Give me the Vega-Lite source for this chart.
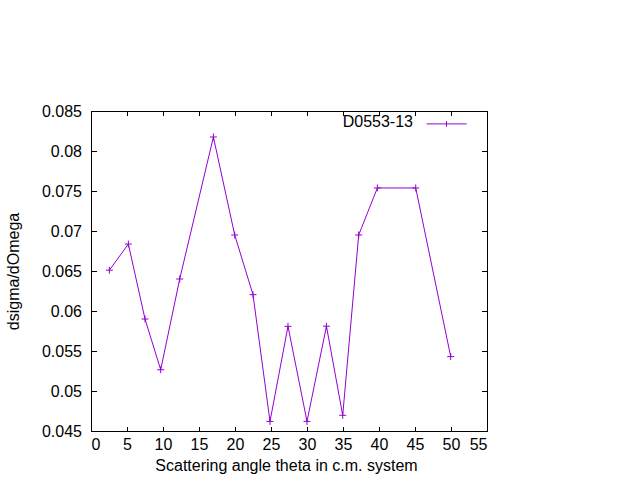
{
  "$schema": "https://vega.github.io/schema/vega-lite/v6.json",
  "width": 396,
  "height": 320,
  "autosize": "none",
  "padding": {"left": 91, "top": 111, "right": 153, "bottom": 49},
  "background": "white",
  "config": {
    "view": {"stroke": "black", "strokeWidth": 1},
    "font": "Liberation Sans",
    "axis": {
      "domain": false,
      "grid": false,
      "tickColor": "black",
      "tickWidth": 1,
      "labelFont": "Liberation Sans",
      "labelFontSize": 16,
      "labelColor": "black",
      "titleFont": "Liberation Sans",
      "titleFontSize": 16,
      "titleFontWeight": "normal",
      "titleColor": "black"
    }
  },
  "data": {
    "values": [
      {"theta": 2.55, "dsdo": 0.0651},
      {"theta": 5.19, "dsdo": 0.06837},
      {"theta": 7.5, "dsdo": 0.0590},
      {"theta": 9.68, "dsdo": 0.05266},
      {"theta": 12.32, "dsdo": 0.0640},
      {"theta": 17.0, "dsdo": 0.08175},
      {"theta": 19.96, "dsdo": 0.0695},
      {"theta": 22.5, "dsdo": 0.06204},
      {"theta": 24.86, "dsdo": 0.0462},
      {"theta": 27.36, "dsdo": 0.05808},
      {"theta": 30.0, "dsdo": 0.0462},
      {"theta": 32.7, "dsdo": 0.0581},
      {"theta": 34.96, "dsdo": 0.04696},
      {"theta": 37.18, "dsdo": 0.0695},
      {"theta": 39.77, "dsdo": 0.07538},
      {"theta": 45.1, "dsdo": 0.07538},
      {"theta": 49.96, "dsdo": 0.0543}
    ]
  },
  "layer": [
    {
      "mark": {"type": "line", "strokeWidth": 1, "clip": true},
      "encoding": {
        "x": {
          "field": "theta", "type": "quantitative",
          "scale": {"domain": [0, 55], "nice": false, "zero": false},
          "axis": {"orient": "bottom", "values": [0,5,10,15,20,25,30,35,40,45,50,55], "tickSize": -4.5, "labelPadding": 10, "titlePadding": 5, "titleX": 195, "title": "Scattering angle theta in c.m. system"}
        },
        "y": {
          "field": "dsdo", "type": "quantitative",
          "scale": {"domain": [0.045, 0.085], "nice": false, "zero": false},
          "axis": {"orient": "left", "values": [0.045,0.05,0.055,0.06,0.065,0.07,0.075,0.08,0.085], "format": "~g", "tickSize": -5.5, "labelPadding": 15, "titlePadding": 20, "title": "dsigma/dOmega"}
        },
        "color": {
          "datum": "D0553-13", "type": "nominal",
          "scale": {"range": ["#9400D3"]},
          "legend": {
            "title": null,
            "orient": "none",
            "legendX": 335,
            "legendY": -10,
            "padding": 0,
            "symbolType": "M-1,0.12H1M0,-0.02V0.26",
            "symbolSize": 1600,
            "symbolStrokeWidth": 1,
            "symbolStrokeColor": "#9400D3",
            "symbolFillColor": "transparent",
            "labelAlign": "right",
            "labelOffset": -54,
            "labelFont": "Liberation Sans",
            "labelFontSize": 16,
            "labelColor": "black",
            "labelLimit": 0
          }
        }
      }
    },
    {
      "mark": {"type": "point", "shape": "M-1,0H1M0,-1V1", "filled": false, "size": 49, "strokeWidth": 1, "color": "#9400D3", "opacity": 1},
      "encoding": {
        "x": {
          "field": "theta", "type": "quantitative",
          "scale": {"domain": [0, 55], "nice": false, "zero": false},
          "axis": {"orient": "top", "values": [0,5,10,15,20,25,30,35,40,45,50,55], "tickSize": -4.5, "labels": false, "title": null}
        },
        "y": {
          "field": "dsdo", "type": "quantitative",
          "scale": {"domain": [0.045, 0.085], "nice": false, "zero": false},
          "axis": {"orient": "right", "values": [0.045,0.05,0.055,0.06,0.065,0.07,0.075,0.08,0.085], "tickSize": -5.5, "labels": false, "title": null}
        }
      }
    }
  ],
  "resolve": {"axis": {"x": "independent", "y": "independent"}}
}
